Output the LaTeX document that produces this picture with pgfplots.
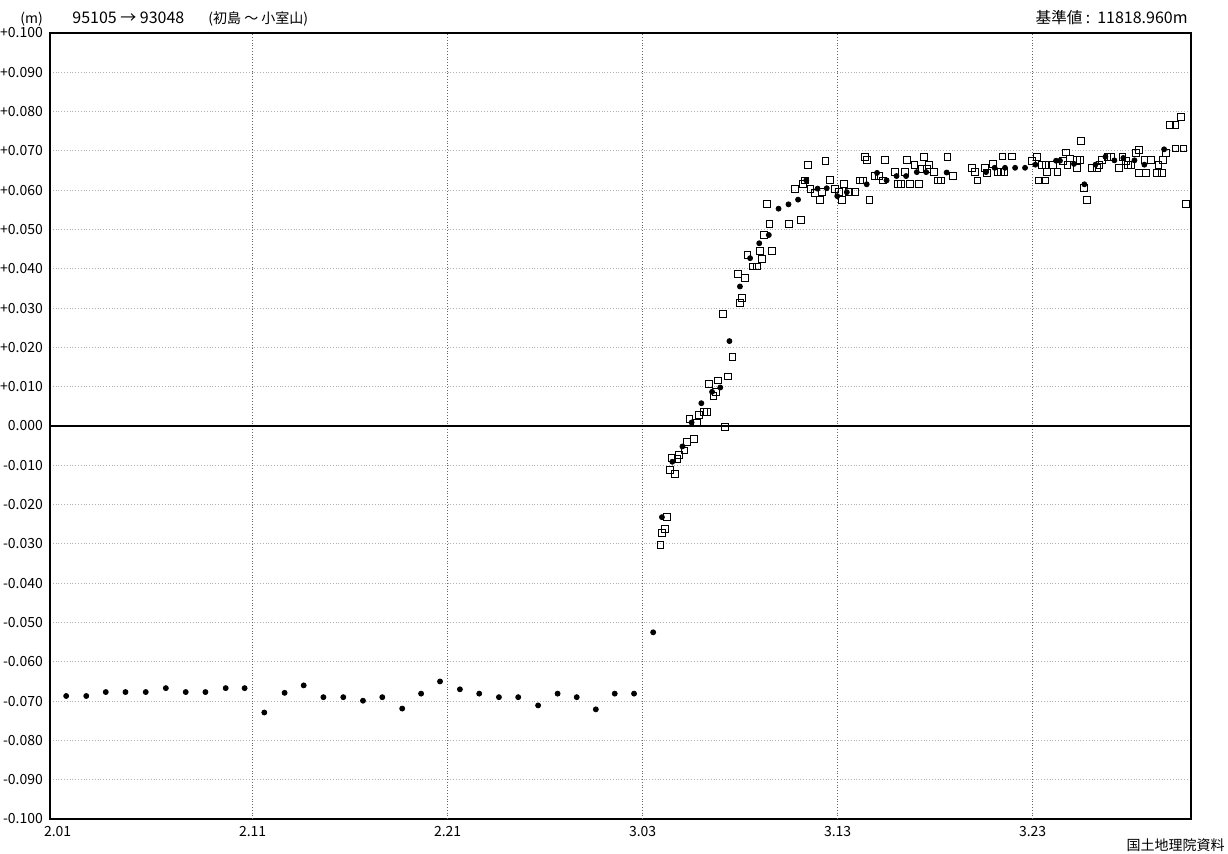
\documentclass[border=0pt]{standalone}
\usepackage{fontspec}
\setmainfont{Noto Sans CJK JP}
\usepackage{pgfplots}
\usepackage{pgfplotstable}
\pgfplotsset{compat=1.18}
\usetikzlibrary{calc}

% day index: 0 = 2.01, 30 = 3.03 ; value in metres
\pgfplotstableread{
d v
0.44 -0.0687
1.47 -0.0687
2.47 -0.0677
3.48 -0.0677
4.52 -0.0677
5.55 -0.0667
6.57 -0.0677
7.58 -0.0677
8.62 -0.0667
9.59 -0.0667
10.60 -0.0729
11.64 -0.0679
12.62 -0.0660
13.63 -0.0690
14.65 -0.0690
15.66 -0.0699
16.65 -0.0690
17.67 -0.0719
18.64 -0.0681
19.61 -0.0650
20.63 -0.0670
21.62 -0.0681
22.63 -0.0690
23.62 -0.0690
24.64 -0.0711
25.64 -0.0681
26.62 -0.0690
27.60 -0.0721
28.57 -0.0681
29.56 -0.0681
30.54 -0.0525
30.99 -0.0232
31.52 -0.0091
32.04 -0.0052
32.51 0.0009
33.01 0.0058
33.56 0.0087
33.98 0.0098
34.45 0.0216
34.99 0.0355
35.51 0.0427
35.98 0.0465
36.47 0.0486
36.97 0.0553
37.48 0.0564
37.97 0.0576
38.39 0.0625
38.97 0.0604
39.44 0.0605
39.98 0.0585
40.47 0.0595
41.49 0.0615
42.02 0.0644
42.51 0.0625
43.02 0.0636
43.51 0.0636
44.06 0.0646
44.54 0.0646
45.59 0.0645
47.61 0.0646
48.05 0.0657
48.58 0.0657
49.10 0.0657
49.61 0.0657
50.14 0.0665
51.20 0.0675
51.40 0.0675
52.12 0.0667
52.65 0.0615
53.22 0.0665
53.73 0.0685
54.19 0.0676
54.65 0.0682
55.22 0.0676
55.73 0.0665
56.74 0.0704
}\daily

\pgfplotstableread{
d v
30.91 -0.0302
31.01 -0.0272
31.16 -0.0262
31.25 -0.0232
31.41 -0.0112
31.66 -0.0122
31.52 -0.0081
31.78 -0.0083
31.88 -0.0073
32.14 -0.0062
32.29 -0.0040
32.64 -0.0032
32.40 0.0018
32.77 0.0008
32.89 0.0028
33.15 0.0036
33.29 0.0036
34.24 -0.0003
33.63 0.0077
33.77 0.0087
33.41 0.0107
33.88 0.0116
34.39 0.0126
34.61 0.0175
34.12 0.0285
35.01 0.0314
35.11 0.0326
34.87 0.0386
35.25 0.0376
35.63 0.0406
35.88 0.0406
35.37 0.0436
36.12 0.0426
36.00 0.0445
36.62 0.0446
36.23 0.0486
36.50 0.0515
37.51 0.0515
38.12 0.0525
36.36 0.0564
37.83 0.0604
38.23 0.0615
38.33 0.0625
38.49 0.0665
38.61 0.0604
38.83 0.0594
39.11 0.0576
39.21 0.0595
39.37 0.0675
39.61 0.0626
39.86 0.0604
40.07 0.0595
40.23 0.0575
40.34 0.0615
40.58 0.0595
40.89 0.0595
41.15 0.0625
41.30 0.0625
41.41 0.0685
41.51 0.0676
41.63 0.0576
41.89 0.0636
42.13 0.0636
42.33 0.0625
42.41 0.0676
42.94 0.0646
43.11 0.0616
43.25 0.0616
43.46 0.0646
43.54 0.0676
43.69 0.0616
43.94 0.0665
44.15 0.0616
44.33 0.0655
44.43 0.0685
44.58 0.0655
44.69 0.0665
44.94 0.0646
45.15 0.0625
45.30 0.0625
45.63 0.0685
45.92 0.0636
46.89 0.0657
47.05 0.0646
47.17 0.0625
47.56 0.0657
47.66 0.0644
47.95 0.0667
48.23 0.0646
48.38 0.0646
48.51 0.0646
48.45 0.0686
48.93 0.0686
49.98 0.0674
50.24 0.0685
50.34 0.0625
50.63 0.0625
50.48 0.0665
50.66 0.0665
50.75 0.0646
51.03 0.0665
51.27 0.0646
51.56 0.0675
51.70 0.0696
51.78 0.0665
51.92 0.0681
52.29 0.0676
52.43 0.0676
52.29 0.0657
52.48 0.0726
52.65 0.0606
52.77 0.0576
53.05 0.0657
53.29 0.0657
53.42 0.0665
53.56 0.0676
53.83 0.0685
54.00 0.0685
54.43 0.0657
54.60 0.0685
54.77 0.0674
54.89 0.0665
55.06 0.0665
55.30 0.0695
55.45 0.0703
55.47 0.0644
55.82 0.0644
55.73 0.0676
56.07 0.0676
56.36 0.0644
56.62 0.0644
56.45 0.0665
56.70 0.0676
56.84 0.0694
57.32 0.0706
57.73 0.0706
57.05 0.0767
57.32 0.0767
57.59 0.0786
57.87 0.0566
}\hourly

\newcommand\numfont{\fontsize{8}{9}\selectfont}
\begin{document}
\begin{tikzpicture}[font=\fontsize{7}{8}\selectfont]
\begin{axis}[
 scale only axis,width=570.5pt,height=393pt,
 xmin=-0.39,xmax=58.12,ymin=-0.1,ymax=0.1,
 xtick={0,10,20,30,40,50},
 xticklabels={2.01,2.11,2.21,3.03,3.13,3.23},
 ytick={-0.1,-0.09,-0.08,-0.07,-0.06,-0.05,-0.04,-0.03,-0.02,-0.01,0,0.01,0.02,0.03,0.04,0.05,0.06,0.07,0.08,0.09,0.1},
 yticklabels={-0.100,-0.090,-0.080,-0.070,-0.060,-0.050,-0.040,-0.030,-0.020,-0.010,0.000,+0.010,+0.020,+0.030,+0.040,+0.050,+0.060,+0.070,+0.080,+0.090,+0.100},
 major tick length=0pt,
 tick label style={font=\fontsize{7}{8}\selectfont},
 ymajorgrids=true,
 grid style={densely dotted,gray!60,line width=0.4pt},
 extra x ticks={10,20,30,40,50},
 extra x tick labels={},
 extra x tick style={xmajorgrids=true,grid style={densely dotted,gray!80!black,line width=0.4pt}},
 extra y ticks={0},
 extra y tick labels={},
 extra y tick style={ymajorgrids=true,grid style={solid,black,line width=0.9pt}},
 axis line style={line width=0.8pt},
]
\addplot[only marks,mark=square,mark size=1.7pt,mark options={line width=0.45pt,draw=black}] table[x=d,y=v]{\hourly};
\addplot[only marks,mark=*,mark size=1.25pt,mark options={fill=black,draw=black}] table[x=d,y=v]{\daily};
\coordinate (SW) at (rel axis cs:0,0);
\coordinate (NE) at (rel axis cs:1,1);
\end{axis}
\node[anchor=base west,inner sep=0pt] at ($(SW|-NE)+(-15pt,4.9pt)$) {(m)};
\node[anchor=base west,inner sep=0pt] at ($(SW|-NE)+(11pt,4.9pt)$) {\numfont 95105 → 93048};
\node[anchor=base west,inner sep=0pt] at ($(SW|-NE)+(79pt,4.9pt)$) {(初島 ～ 小室山)};
\node[anchor=base east,inner sep=0pt] at ($(NE)+(-1.5pt,4.9pt)$) {\fontsize{7.8}{9}\selectfont 基準値 :\ \ {\numfont 11818.960m}};
\node[anchor=base east,inner sep=0pt] at ($(NE|-SW)+(17pt,-15.6pt)$) {国土地理院資料};
\pgfresetboundingbox
\path ($(SW)+(-25pt,-17pt)$) rectangle ($(NE)+(18.5pt,16.5pt)$);
\end{tikzpicture}
\end{document}
